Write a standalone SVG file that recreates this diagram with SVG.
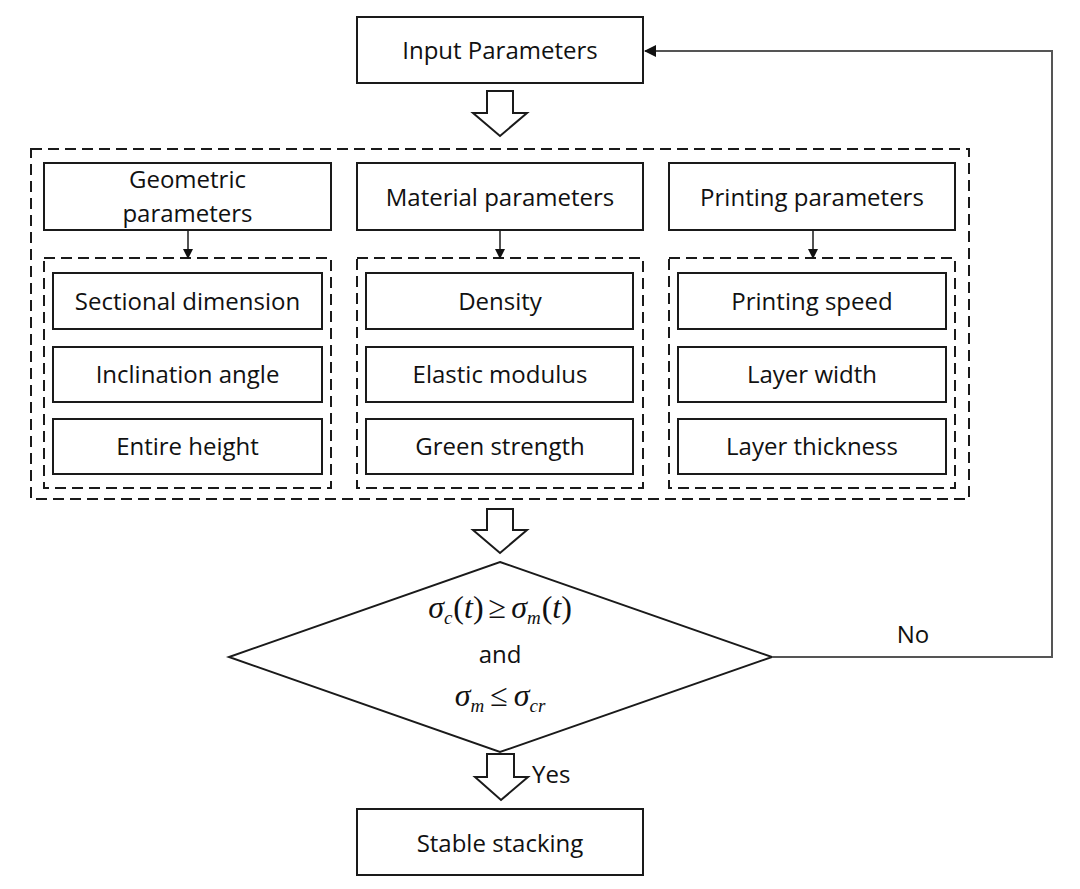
<svg xmlns="http://www.w3.org/2000/svg" width="1080" height="889" viewBox="0 0 1080 889">
<style>
.box{fill:#fff;stroke:#1a1a1a;stroke-width:2}
.dash{fill:none;stroke:#1a1a1a;stroke-width:2;stroke-dasharray:11 6}
.t{font-family:"Open Sans","Liberation Sans",sans-serif;font-size:24px;fill:#111;text-anchor:middle}
.m{font-family:"Liberation Serif","DejaVu Serif",serif;font-size:32px;fill:#111}
.i{font-style:italic}
.hollow{fill:#fff;stroke:#1a1a1a;stroke-width:2;stroke-linejoin:miter}
.thin{fill:none;stroke:#1a1a1a;stroke-width:1.5}
.fb{fill:none;stroke:#555;stroke-width:2}
</style>
<defs>
<marker id="ah" markerWidth="10" markerHeight="10" refX="9" refY="5" orient="auto" markerUnits="userSpaceOnUse">
<path d="M0,0 L10,5 L0,10 Z" fill="#111"/>
</marker>
<marker id="ah2" markerWidth="12" markerHeight="12" refX="11" refY="6" orient="auto" markerUnits="userSpaceOnUse">
<path d="M0,0 L12,6 L0,12 Z" fill="#111"/>
</marker>
</defs>
<rect width="1080" height="889" fill="#fff"/>

<g id="input">
<rect class="box" x="357" y="17" width="286" height="66"/>
<text class="t" x="500" y="59">Input Parameters</text>
</g>

<g id="outer-group">
<rect class="dash" x="31" y="149" width="938" height="350"/>
</g>

<g id="geometric">
<rect class="box" x="44" y="163" width="287" height="67"/>
<text class="t" x="187.5" y="188">Geometric</text>
<text class="t" x="187.5" y="222">parameters</text>
</g>
<g id="geometric-items">
<rect class="dash" x="44" y="258" width="287" height="230"/>
</g>
<g id="sectional"><rect class="box" x="53" y="273" width="269" height="56"/><text class="t" x="187.5" y="310">Sectional dimension</text></g>
<g id="inclination"><rect class="box" x="53" y="347" width="269" height="55"/><text class="t" x="187.5" y="383">Inclination angle</text></g>
<g id="height"><rect class="box" x="53" y="419" width="269" height="55"/><text class="t" x="187.5" y="455">Entire height</text></g>

<g id="material">
<rect class="box" x="357" y="163" width="286" height="67"/>
<text class="t" x="500" y="206">Material parameters</text>
</g>
<g id="material-items">
<rect class="dash" x="357" y="258" width="286" height="230"/>
</g>
<g id="density"><rect class="box" x="366" y="273" width="267" height="56"/><text class="t" x="500" y="310">Density</text></g>
<g id="elastic"><rect class="box" x="366" y="347" width="267" height="55"/><text class="t" x="500" y="383">Elastic modulus</text></g>
<g id="green"><rect class="box" x="366" y="419" width="267" height="55"/><text class="t" x="500" y="455">Green strength</text></g>

<g id="printing">
<rect class="box" x="669" y="163" width="286" height="67"/>
<text class="t" x="812" y="206">Printing parameters</text>
</g>
<g id="printing-items">
<rect class="dash" x="669" y="258" width="286" height="230"/>
</g>
<g id="speed"><rect class="box" x="678" y="273" width="268" height="56"/><text class="t" x="812" y="310">Printing speed</text></g>
<g id="width"><rect class="box" x="678" y="347" width="268" height="55"/><text class="t" x="812" y="383">Layer width</text></g>
<g id="thickness"><rect class="box" x="678" y="419" width="268" height="55"/><text class="t" x="812" y="455">Layer thickness</text></g>

<g id="decision">
<polygon class="box" points="500,562 772,657 500,752 229,657"/>
<text class="m" x="500" y="618" text-anchor="middle"><tspan class="i">σ</tspan><tspan class="i" font-size="19" dy="6">c</tspan><tspan dy="-6" dx="1">(</tspan><tspan class="i">t</tspan><tspan>)</tspan><tspan dx="5">≥</tspan><tspan class="i" dx="5">σ</tspan><tspan class="i" font-size="19" dy="6">m</tspan><tspan dy="-6" dx="1">(</tspan><tspan class="i">t</tspan><tspan>)</tspan></text>
<text class="t" x="500" y="663">and</text>
<text class="m" x="500" y="706" text-anchor="middle"><tspan class="i">σ</tspan><tspan class="i" font-size="19" dy="6">m</tspan><tspan dy="-6" dx="6">≤</tspan><tspan class="i" dx="6">σ</tspan><tspan class="i" font-size="19" dy="6">cr</tspan></text>
</g>

<g id="stable">
<rect class="box" x="357" y="809" width="286" height="66"/>
<text class="t" x="500" y="852">Stable stacking</text>
</g>

<g id="connectors">
<polygon class="hollow" points="487,91 513,91 513,113 527,113 500,136 473,113 487,113"/>
<polygon class="hollow" points="487,509 513,509 513,530 527,530 500,553 473,530 487,530"/>
<polygon class="hollow" points="487,754 514,754 514,777 528,777 501,800 475,777 487,777"/>
<line class="thin" x1="188" y1="230" x2="188" y2="258" marker-end="url(#ah)"/>
<line class="thin" x1="500" y1="230" x2="500" y2="258" marker-end="url(#ah)"/>
<line class="thin" x1="813" y1="230" x2="813" y2="258" marker-end="url(#ah)"/>
<polyline class="fb" points="772,657 1052,657 1052,51 645,51" marker-end="url(#ah2)"/>
<text class="t" x="913" y="643">No</text>
<text class="t" x="532" y="783" style="text-anchor:start">Yes</text>
</g>
</svg>
